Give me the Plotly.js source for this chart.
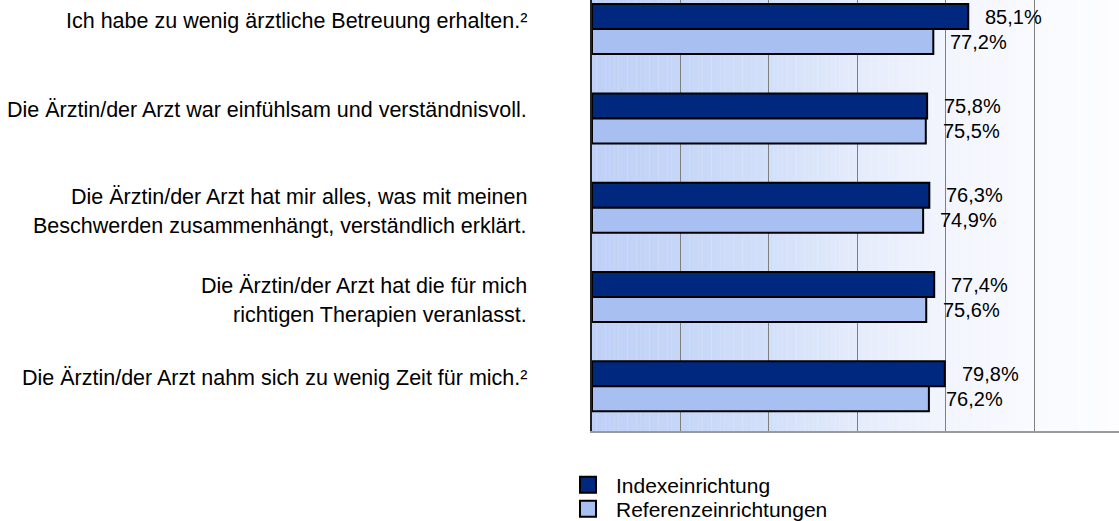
<!DOCTYPE html>
<html>
<head>
<meta charset="utf-8">
<script src="https://cdn.plot.ly/plotly-3.0.1.min.js"></script>
<style>html,body{margin:0;padding:0;background:#fff;}#chart{width:1119px;height:521px;}</style>
</head>
<body>
<div id="chart"></div>
<script>
// ---- data ----
const categories = [
  "Ich habe zu wenig ärztliche Betreuung erhalten.²",
  "Die Ärztin/der Arzt war einfühlsam und verständnisvoll.",
  "Die Ärztin/der Arzt hat mir alles, was mit meinen<br>Beschwerden zusammenhängt, verständlich erklärt.",
  "Die Ärztin/der Arzt hat die für mich<br>richtigen Therapien veranlasst.",
  "Die Ärztin/der Arzt nahm sich zu wenig Zeit für mich.²"
];
const seriesNames = ["Indexeinrichtung", "Referenzeinrichtungen"];
const indexValues = [85.1, 75.8, 76.3, 77.4, 79.8];
const referenceValues = [77.2, 75.5, 74.9, 75.6, 76.2];
const xTicks = [0, 20, 40, 60, 80, 100];

// ---- style ----
const FONT = "Liberation Sans, Arial, sans-serif";
const LABEL_FS = 21.5;
const VALUE_FS = 20;
const LEGEND_FS = 21;
const darkColor = "#00287f";
const lightColor = "#a8bff2";
const xMax = 119.2;
const barPx = 12.5;   // half-distance between the two bar centres in pixels

const cats = categories.map((c, i) => "c" + i);

const traces = [
  {type: "bar", orientation: "h", name: seriesNames[0], y: cats, x: indexValues,
   marker: {color: darkColor, line: {color: "#000", width: 2}}, showlegend: false, hoverinfo: "x"},
  {type: "bar", orientation: "h", name: seriesNames[1], y: cats, x: referenceValues,
   marker: {color: lightColor, line: {color: "#000", width: 2}}, showlegend: false, hoverinfo: "x"},
  // legend entries
  {type: "scatter", mode: "markers", name: seriesNames[0], x: [null], y: [null], legend: "legend",
   marker: {symbol: "square", size: 20, color: darkColor, line: {color: "#000", width: 2}}},
  {type: "scatter", mode: "markers", name: seriesNames[1], x: [null], y: [null], legend: "legend2",
   marker: {symbol: "square", size: 20, color: lightColor, line: {color: "#000", width: 2}}}
];

// background gradient (decoration)
const gradStops = [[0,[191,208,247]],[20,[198,214,247]],[40,[210,223,249]],[60,[228,235,251]],[80,[242,245,253]],[100,[248,250,254]],[120,[253,253,255]]];
function gradColor(v){
  for (let k = 0; k < gradStops.length - 1; k++) {
    const a = gradStops[k], b = gradStops[k+1];
    if (v <= b[0]) {
      const t = (v - a[0]) / (b[0] - a[0]);
      const c = a[1].map((ch, j) => Math.round(ch + (b[1][j] - ch) * t));
      return "rgb(" + c.join(",") + ")";
    }
  }
  return "rgb(253,253,255)";
}
const shapes = [];
for (let v = 0; v < 120; v += 1) {
  shapes.push({type: "rect", xref: "x", yref: "paper", x0: v, x1: v + 1.05, y0: 0, y1: 1,
    fillcolor: gradColor(v + 0.5), line: {width: 0}, layer: "below"});
}

const annotations = [];
// category labels (each line placed separately to reproduce the wide line spacing)
categories.forEach((c, i) => {
  const lines = c.split("<br>");
  lines.forEach((ln, k) => {
    const off = -8 - 3 * (lines.length - 1) + k * 29;
    annotations.push({xref: "paper", yref: "y", x: 0, y: cats[i], xanchor: "right", yanchor: "middle",
      xshift: -63, yshift: -off, text: ln, showarrow: false, font: {family: FONT, size: LABEL_FS, color: "#000"}});
  });
});
// value labels
function pct(v){ return v.toFixed(1).replace(".", ",") + "%"; }
indexValues.forEach((v, i) => annotations.push({x: v, y: cats[i], xanchor: "left", yanchor: "middle",
  xshift: 15, yshift: barPx, text: pct(v), showarrow: false, font: {family: FONT, size: VALUE_FS, color: "#000"}}));
referenceValues.forEach((v, i) => annotations.push({x: v, y: cats[i], xanchor: "left", yanchor: "middle",
  xshift: 15, yshift: -barPx, text: pct(v), showarrow: false, font: {family: FONT, size: VALUE_FS, color: "#000"}}));

const legendBase = {x: (560 - 592) / 527, xanchor: "left", yanchor: "middle", orientation: "v",
  bgcolor: "rgba(0,0,0,0)", font: {family: FONT, size: LEGEND_FS, color: "#000"}, itemwidth: 46};

const layout = {
  width: 1119, height: 521,
  margin: {l: 592, r: 0, t: 0, b: 90, pad: 0, autoexpand: false},
  paper_bgcolor: "#fff", plot_bgcolor: "rgba(0,0,0,0)",
  barmode: "group", bargap: 0.44, bargroupgap: 0,
  font: {family: FONT, size: VALUE_FS, color: "#000"},
  xaxis: {range: [0, xMax], tickvals: xTicks, showticklabels: false, ticks: "",
    showgrid: true, gridcolor: "#7f7f7f", gridwidth: 1, zeroline: false,
    showline: true, linecolor: "#9a9a9a", linewidth: 2, fixedrange: true},
  yaxis: {type: "category", range: [4.5, -0.326], showticklabels: false, ticks: "",
    showgrid: false, zeroline: false, showline: true, linecolor: "#222", linewidth: 2, fixedrange: true},
  showlegend: true,
  legend: Object.assign({}, legendBase, {y: (431 - 485) / 431}),
  legend2: Object.assign({}, legendBase, {y: (431 - 509) / 431}),
  shapes: shapes,
  annotations: annotations
};

Plotly.newPlot("chart", traces, layout, {displayModeBar: false, staticPlot: true});
</script>
</body>
</html>
